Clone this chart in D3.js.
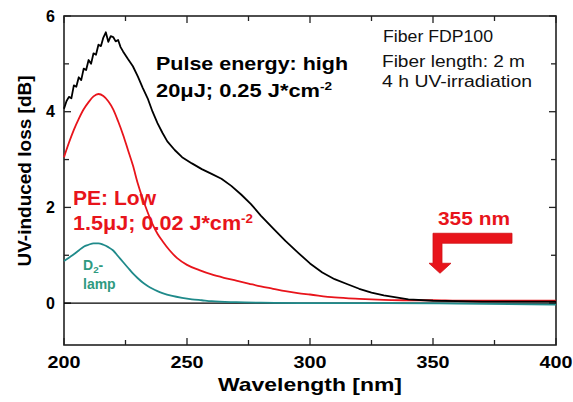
<!DOCTYPE html>
<html>
<head>
<meta charset="utf-8">
<script src="https://cdn.jsdelivr.net/npm/d3@7"></script>
<style>
  body { margin: 0; background: #fff; }
  svg { display: block; font-family: "Liberation Sans", Arial, sans-serif; }
</style>
</head>
<body>
<svg id="chart" width="573" height="402"></svg>
<script>

//  values

var x_ticks = [200, 250, 300, 350, 400];
var y_ticks = [0, 2, 4, 6];

var high_wl = [200, 201, 202, 203, 204, 205, 206, 207, 208, 209, 210, 211, 212, 213, 214, 215, 216, 217, 218, 219,
               220, 221, 222, 223, 224, 226, 228, 230, 232, 234, 236, 238, 240, 242, 245, 248, 252, 256, 260, 264,
               268, 272, 276, 280, 285, 290, 295, 300, 305, 310, 315, 320, 325, 330, 340, 350, 360, 370, 380, 390, 400];
var high_loss = [4.06, 4.22, 4.31, 4.28, 4.55, 4.52, 4.72, 4.66, 4.9, 4.87, 5.08, 5.0, 5.22, 5.19, 5.4, 5.37, 5.55, 5.66, 5.46, 5.58,
                 5.56, 5.47, 5.5, 5.35, 5.26, 5.1, 4.95, 4.74, 4.5, 4.28, 4.0, 3.76, 3.56, 3.38, 3.2, 3.05, 2.92, 2.8, 2.7, 2.6,
                 2.45, 2.27, 2.07, 1.83, 1.56, 1.3, 1.06, 0.83, 0.64, 0.5, 0.4, 0.3, 0.22, 0.16, 0.08, 0.05, 0.04, 0.03, 0.03, 0.03, 0.03];

var low_wl = [200, 202, 204, 206, 208, 210, 212, 214, 216, 218, 220, 222, 224, 226, 228, 230, 232, 234, 236, 238,
              240, 243, 246, 250, 255, 260, 265, 270, 275, 280, 285, 290, 295, 300, 310, 320, 330, 340, 350, 360, 380, 400];
var low_loss = [3.05, 3.35, 3.62, 3.85, 4.05, 4.2, 4.32, 4.37, 4.33, 4.22, 4.05, 3.8, 3.52, 3.2, 2.88, 2.5, 2.18, 1.9, 1.65, 1.45,
                1.3, 1.1, 0.94, 0.8, 0.69, 0.6, 0.53, 0.47, 0.41, 0.35, 0.3, 0.25, 0.21, 0.18, 0.12, 0.09, 0.07, 0.06, 0.06, 0.05, 0.05, 0.05];

var lamp_wl = [200, 202, 204, 206, 208, 210, 212, 214, 216, 218, 220, 222, 224, 226, 228, 230, 232, 234, 236, 238,
               240, 244, 248, 252, 256, 260, 270, 280, 300, 330, 360, 400];
var lamp_loss = [0.88, 0.95, 1.02, 1.1, 1.18, 1.22, 1.25, 1.25, 1.22, 1.17, 1.1, 0.98, 0.86, 0.74, 0.62, 0.52, 0.43, 0.36, 0.3, 0.25,
                 0.21, 0.15, 0.11, 0.08, 0.06, 0.04, 0.02, 0.01, 0.0, 0.0, -0.01, -0.03];

var colors = {
    'high' : '#000000',
    'low' : '#e8141b',
    'lamp' : '#1f8a8a',
    'lamp_text' : '#2e9a80'
};

var margin = { top: 16, right: 17, bottom: 57, left: 64 };
var width = 573 - margin.left - margin.right;
var height = 402 - margin.top - margin.bottom;

var x = d3.scaleLinear().domain([200, 400]).range([0, width]);
var y = d3.scaleLinear().domain([-0.875, 6]).range([height, 0]);

var svg = d3.select('#chart');
var g = svg.append('g').attr('transform', 'translate(' + margin.left + ',' + margin.top + ')');


function fit(sel, w) {
    //  the reference text is drawn a bit wider than our fonts
    sel.attr('textLength', w).attr('lengthAdjust', 'spacingAndGlyphs');
    return sel;
}


function drawAxes() {

    var minorX = d3.range(200, 401, 25);
    var minorY = d3.range(0, 7, 1);

    // bottom ticks (inward)
    g.selectAll('.tb').data(minorX).enter().append('line')
        .attr('x1', function(d) { return x(d); }).attr('x2', function(d) { return x(d); })
        .attr('y1', height).attr('y2', function(d) { return height - (d % 50 === 0 ? 7 : 5); })
        .attr('stroke', '#222').attr('stroke-width', 1.3);

    // top ticks
    g.selectAll('.tt').data(minorX).enter().append('line')
        .attr('x1', function(d) { return x(d); }).attr('x2', function(d) { return x(d); })
        .attr('y1', 0).attr('y2', function(d) { return d % 50 === 0 ? 7 : 5; })
        .attr('stroke', '#222').attr('stroke-width', 1.3);

    // left ticks
    g.selectAll('.tl').data(minorY).enter().append('line')
        .attr('x1', 0).attr('x2', function(d) { return d % 2 === 0 ? 7 : 5; })
        .attr('y1', function(d) { return y(d); }).attr('y2', function(d) { return y(d); })
        .attr('stroke', '#222').attr('stroke-width', 1.3);

    // right ticks
    g.selectAll('.tr').data(minorY).enter().append('line')
        .attr('x1', width).attr('x2', function(d) { return width - (d % 2 === 0 ? 7 : 5); })
        .attr('y1', function(d) { return y(d); }).attr('y2', function(d) { return y(d); })
        .attr('stroke', '#222').attr('stroke-width', 1.3);

    g.append('rect')
        .attr('width', width).attr('height', height)
        .attr('fill', 'none').attr('stroke', '#222').attr('stroke-width', 1.6);

    // zero line
    g.append('line')
        .attr('x1', 0).attr('x2', width)
        .attr('y1', y(0)).attr('y2', y(0))
        .attr('stroke', '#000').attr('stroke-width', 1.1);

    g.selectAll('.xl').data(x_ticks).enter().append('text')
        .attr('x', function(d) { return x(d); })
        .attr('y', height + 23)
        .attr('text-anchor', 'middle')
        .attr('font-size', 17).attr('font-weight', 'bold')
        .text(function(d) { return d; })
        .call(fit, 33);

    g.selectAll('.yl').data(y_ticks).enter().append('text')
        .attr('x', -9)
        .attr('y', function(d) { return y(d); })
        .attr('dy', '0.36em')
        .attr('text-anchor', 'end')
        .attr('font-size', 16).attr('font-weight', 'bold')
        .text(function(d) { return d; });

    svg.append('text')
        .attr('x', 310).attr('y', 391)
        .attr('text-anchor', 'middle')
        .attr('font-size', 19).attr('font-weight', 'bold')
        .text('Wavelength [nm]')
        .call(fit, 184);

    svg.append('text')
        .attr('transform', 'translate(31,171) rotate(-90)')
        .attr('text-anchor', 'middle')
        .attr('font-size', 19).attr('font-weight', 'bold')
        .text('UV-induced loss [dB]');
}


function drawCurve(wl, loss, color, curve) {

    var pts = wl.map(function(d, i) { return [d, loss[i]]; });

    var line = d3.line()
        .curve(curve)
        .x(function(d) { return x(d[0]); })
        .y(function(d) { return y(d[1]); });

    g.append('path')
        .datum(pts)
        .attr('d', line)
        .attr('fill', 'none')
        .attr('stroke', color)
        .attr('stroke-width', 1.8)
        .attr('stroke-linejoin', 'round');
}


function addLines(sel, lines) {
    lines.forEach(function(l) {
        var t = sel.append('text').attr('x', l.x).attr('y', l.y);
        t.append('tspan').text(l.text);
        if (l.sup) {
            t.append('tspan').attr('font-size', '0.62em').attr('dy', -7).text(l.sup);
        }
        if (l.w) t.call(fit, l.w);
    });
}


function drawNotes() {

    var high = svg.append('g').attr('font-size', 19).attr('font-weight', 'bold').attr('fill', colors.high);
    addLines(high, [
        { text: 'Pulse energy: high', x: 156, y: 70, w: 192 },
        { text: '20\u03bcJ; 0.25 J*cm', sup: '-2', x: 156, y: 97, w: 176 }
    ]);

    var fiber = svg.append('g').attr('font-size', 16).attr('fill', '#111');
    addLines(fiber, [
        { text: 'Fiber FDP100', x: 383, y: 42, w: 110 },
        { text: 'Fiber length: 2 m', x: 382, y: 67, w: 143 },
        { text: '4 h UV-irradiation', x: 382, y: 87, w: 150 }
    ]);

    var low = svg.append('g').attr('font-size', 20).attr('font-weight', 'bold').attr('fill', colors.low);
    addLines(low, [
        { text: 'PE: Low', x: 73, y: 205, w: 83 },
        { text: '1.5\u03bcJ; 0.02 J*cm', sup: '-2', x: 73, y: 230, w: 180 }
    ]);

    var lamp = svg.append('g').attr('font-size', 14).attr('font-weight', 'bold').attr('fill', colors.lamp_text);
    var d2 = lamp.append('text').attr('x', 83).attr('y', 270);
    d2.append('tspan').text('D');
    d2.append('tspan').attr('font-size', '0.7em').attr('dy', 3).text('2');
    d2.append('tspan').attr('dy', -3).text('-');
    lamp.append('text').attr('x', 83).attr('y', 289).text('lamp');

    svg.append('text')
        .attr('x', 438).attr('y', 225)
        .attr('font-size', 19).attr('font-weight', 'bold')
        .attr('fill', colors.low)
        .text('355 nm')
        .call(fit, 72);

    // bent arrow pointing down at the laser line
    var ax = x(350), ay = y(1.46);
    var pts = [
        [ax, ay], [ax + 79, ay], [ax + 79, ay + 10], [ax + 9, ay + 10],
        [ax + 9, ay + 30], [ax + 18, ay + 30], [ax + 7, ay + 40],
        [ax - 4, ay + 30], [ax, ay + 30]
    ];
    g.append('path')
        .attr('d', d3.line()(pts) + 'Z')
        .attr('fill', colors.low)
        .attr('stroke', '#d01015')
        .attr('stroke-width', 0.8);
}


drawAxes();
drawCurve(lamp_wl, lamp_loss, colors.lamp, d3.curveMonotoneX);
drawCurve(low_wl, low_loss, colors.low, d3.curveMonotoneX);
drawCurve(high_wl, high_loss, colors.high, d3.curveLinear);
drawNotes();

</script>
</body>
</html>
